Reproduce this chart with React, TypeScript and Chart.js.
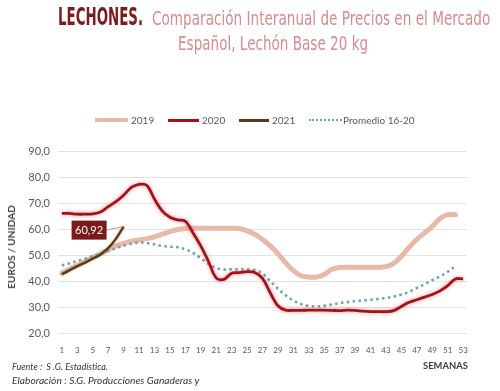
import React, { useEffect, useLayoutEffect, useRef } from 'react';
import { Chart, registerables } from 'chart.js';

Chart.register(...registerables);

const WEEK_LABELS = [
  '1', '2', '3', '4', '5', '6', '7', '8', '9', '10', '11', '12', '13', '14', '15', '16', '17', '18',
  '19', '20', '21', '22', '23', '24', '25', '26', '27', '28', '29', '30', '31', '32', '33', '34', '35',
  '36', '37', '38', '39', '40', '41', '42', '43', '44', '45', '46', '47', '48', '49', '50', '51', '52', '53',
];

const SERIES_2019 = [
  43, 44.5, 46, 47.5, 49, 50.5, 52, 53.5, 54.5, 55.3, 55.8, 56.3, 57, 58, 59, 59.8, 60.2, 60.3, 60.3,
  60.3, 60.3, 60.3, 60.3, 60.2, 59.3, 58, 56, 53.5, 50.5, 47, 44, 42, 41.5, 41.5, 42.5, 44.5, 45.2,
  45.3, 45.3, 45.3, 45.3, 45.3, 45.5, 46.8, 49.5, 53, 56, 58.5, 61, 64, 65.5, 65.5,
];

const SERIES_2020 = [
  66, 66, 65.7, 65.7, 65.8, 66.5, 68.6, 70.5, 73, 76, 77.2, 76.8, 71.5, 67, 64.5, 63.5, 63, 58.5, 53.5,
  47.5, 41.2, 40.6, 43, 43.2, 43.6, 43.3, 41, 35.5, 30.5, 28.8, 28.7, 28.7, 28.8, 28.8, 28.8, 28.7,
  28.6, 28.8, 28.7, 28.4, 28.2, 28.2, 28.2, 28.6, 30.2, 31.8, 32.8, 33.8, 34.8, 36.2, 38.2, 40.8, 40.8,
];

const SERIES_2021 = [42.6, 44.2, 45.7, 47.1, 48.6, 50.2, 52.6, 56.2, 60.92];

const SERIES_PROMEDIO = [
  46, 46.8, 47.7, 48.6, 49.5, 50.5, 51.5, 52.6, 53.6, 54.3, 54.8, 54.6, 54.1, 53.5, 53.2, 53, 52.2,
  50.8, 48.8, 46.6, 45, 44.4, 44.5, 44.5, 44.4, 44.2, 42.8, 40, 37, 34.5, 32.5, 31.1, 30.4, 30.2, 30.5,
  31, 31.5, 31.9, 32.2, 32.5, 32.8, 33.1, 33.5, 34, 34.8, 35.8, 37.3, 38.8, 40.3, 41.8, 43.5, 45.8,
];

const SERIES_NAMES = ['2019', '2020', '2021', 'Promedio 16-20'];
const LAST_LABEL = '60,92';

const C2019 = '#e9b9a7';
const C2020 = '#a3121b';
const C2021 = '#5b3a1e';
const CPROM = '#6aa3b5';

const glowPlugin = {
  id: 'glow',
  beforeDatasetDraw(chart: any, args: any) {
    const ctx = chart.ctx;
    ctx.save();
    if (args.index === 1) {
      ctx.shadowColor = 'rgba(230,60,60,0.55)';
      ctx.shadowBlur = 4;
    } else if (args.index === 2) {
      ctx.shadowColor = 'rgba(200,150,60,0.5)';
      ctx.shadowBlur = 3;
    }
  },
  afterDatasetDraw(chart: any) {
    chart.ctx.restore();
  },
};

const lastLabelPlugin = {
  id: 'lastLabel',
  afterDatasetsDraw(chart: any) {
    const meta = chart.getDatasetMeta(2);
    const pt = meta.data[meta.data.length - 1];
    if (!pt) return;
    const ctx = chart.ctx;
    const bw = 35;
    const bh = 19;
    const bx = pt.x - 17 - bw;
    const by = pt.y - 6;
    ctx.save();
    ctx.strokeStyle = '#a6a6a6';
    ctx.lineWidth = 1;
    ctx.beginPath();
    ctx.moveTo(bx + bw, by + bh / 2);
    ctx.lineTo(pt.x - 1, pt.y);
    ctx.stroke();
    ctx.fillStyle = '#7b1a1a';
    ctx.fillRect(bx, by, bw, bh);
    ctx.fillStyle = '#ffffff';
    ctx.font = '11px Lato, sans-serif';
    ctx.textAlign = 'center';
    ctx.textBaseline = 'middle';
    ctx.fillText(LAST_LABEL, bx + bw / 2, by + bh / 2 + 0.5);
    ctx.restore();
  },
};

function FitText(props: { text: string; left: number; top: number; width: number; style: any }) {
  const ref = useRef<HTMLDivElement>(null);
  useLayoutEffect(() => {
    const el = ref.current;
    if (!el) return;
    const w = el.offsetWidth;
    if (w > 0) el.style.transform = `scaleX(${props.width / w})`;
  });
  return (
    <div
      ref={ref}
      style={{
        position: 'absolute',
        left: props.left,
        top: props.top,
        whiteSpace: 'pre',
        transformOrigin: 'left top',
        ...props.style,
      }}
    >
      {props.text}
    </div>
  );
}

function RotatedTitle(props: { text: string; cx: number; cy: number; length: number; style: any }) {
  const ref = useRef<HTMLDivElement>(null);
  useLayoutEffect(() => {
    const el = ref.current;
    if (!el) return;
    const w = el.offsetWidth;
    if (w > 0) el.style.transform = `translate(-50%,-50%) rotate(-90deg) scaleX(${props.length / w})`;
  });
  return (
    <div
      ref={ref}
      style={{ position: 'absolute', left: props.cx, top: props.cy, whiteSpace: 'pre', ...props.style }}
    >
      {props.text}
    </div>
  );
}

function LegendItem(props: { x1: number; x2: number; tx: number; cy: number; label: string; line: any }) {
  return (
    <>
      <div style={{ position: 'absolute', left: props.x1, width: props.x2 - props.x1, ...props.line }} />
      <div
        style={{
          position: 'absolute',
          left: props.tx,
          top: props.cy - 7,
          height: 14,
          lineHeight: '14px',
          fontFamily: 'Lato, sans-serif',
          fontSize: 10,
          color: '#595959',
          whiteSpace: 'pre',
        }}
      >
        {props.label}
      </div>
    </>
  );
}

export default function App() {
  const canvasRef = useRef<HTMLCanvasElement>(null);

  useEffect(() => {
    const canvas = canvasRef.current;
    if (!canvas) return;
    const chart = new Chart(canvas, {
      type: 'line',
      data: {
        labels: WEEK_LABELS,
        datasets: [
          {
            label: SERIES_NAMES[0],
            data: SERIES_2019,
            borderColor: C2019,
            borderWidth: 5,
            pointRadius: 0,
            tension: 0.35,
            order: 3,
            borderCapStyle: 'round',
            borderJoinStyle: 'round',
          },
          {
            label: SERIES_NAMES[1],
            data: SERIES_2020,
            borderColor: C2020,
            borderWidth: 2.8,
            pointRadius: 0,
            tension: 0.35,
            order: 1,
            borderJoinStyle: 'round',
          },
          {
            label: SERIES_NAMES[2],
            data: SERIES_2021,
            borderColor: C2021,
            borderWidth: 2.5,
            pointRadius: 0,
            tension: 0.35,
            order: 0,
            borderJoinStyle: 'round',
          },
          {
            label: SERIES_NAMES[3],
            data: SERIES_PROMEDIO,
            borderColor: CPROM,
            borderWidth: 2.6,
            borderDash: [2.5, 3.4],
            pointRadius: 0,
            tension: 0.35,
            order: 2,
          },
        ] as any,
      },
      options: {
        responsive: false,
        animation: false,
        layout: { padding: { top: 151, right: 33, left: 0, bottom: 0 } },
        plugins: { legend: { display: false }, tooltip: { enabled: false }, title: { display: false } },
        scales: {
          x: {
            type: 'category',
            offset: true,
            grid: { display: false },
            border: { display: false },
            ticks: {
              autoSkip: false,
              maxRotation: 0,
              minRotation: 0,
              padding: 5,
              color: '#595959',
              font: { family: 'Lato, sans-serif', size: 8 },
              callback: (_v: any, i: number) => (i % 2 === 0 ? WEEK_LABELS[i] : ''),
            },
            afterFit: (s: any) => {
              s.height = 58;
            },
          },
          y: {
            min: 20,
            max: 90,
            grid: { color: '#e3e3e3', drawTicks: false, lineWidth: 1 },
            border: { display: false },
            ticks: {
              stepSize: 10,
              padding: 8,
              color: '#595959',
              font: { family: 'Lato, sans-serif', size: 11 },
              callback: (v: any) => Number(v).toFixed(1).replace('.', ','),
            },
            afterFit: (s: any) => {
              s.width = 58;
            },
          },
        },
      } as any,
      plugins: [glowPlugin, lastLabelPlugin],
    });
    return () => chart.destroy();
  }, []);

  return (
    <div
      style={{
        position: 'absolute',
        left: 0,
        top: 0,
        width: 500,
        height: 391,
        background: '#ffffff',
        overflow: 'hidden',
      }}
    >
      <canvas ref={canvasRef} width={500} height={391} style={{ position: 'absolute', left: 0, top: 0, display: 'block' }} />

      <FitText
        text="LECHONES."
        left={58}
        top={4}
        width={85}
        style={{
          fontFamily: '"Liberation Sans Narrow", "DejaVu Sans Condensed", sans-serif',
          fontWeight: 'bold',
          fontSize: 25,
          lineHeight: '25px',
          color: '#7c1c1c',
        }}
      />
      <FitText
        text="Comparación Interanual de Precios en el Mercado"
        left={152}
        top={8}
        width={338}
        style={{
          fontFamily: '"Liberation Sans Narrow", "DejaVu Sans Condensed", sans-serif',
          fontSize: 20,
          lineHeight: '20px',
          color: '#d98a8e',
        }}
      />
      <FitText
        text="Español, Lechón Base 20 kg"
        left={178}
        top={32.5}
        width={190}
        style={{
          fontFamily: '"Liberation Sans Narrow", "DejaVu Sans Condensed", sans-serif',
          fontSize: 20,
          lineHeight: '20px',
          color: '#d98a8e',
        }}
      />

      <LegendItem
        x1={95}
        x2={128}
        tx={131}
        cy={120}
        label={SERIES_NAMES[0]}
        line={{ top: 118, height: 4, background: C2019 }}
      />
      <LegendItem
        x1={168}
        x2={199}
        tx={202}
        cy={120}
        label={SERIES_NAMES[1]}
        line={{ top: 118.5, height: 3, background: C2020 }}
      />
      <LegendItem
        x1={239}
        x2={269}
        tx={272}
        cy={120}
        label={SERIES_NAMES[2]}
        line={{ top: 118.5, height: 3, background: C2021 }}
      />
      <LegendItem
        x1={309}
        x2={342}
        tx={343}
        cy={120}
        label={SERIES_NAMES[3]}
        line={{ top: 118.5, height: 0, borderTop: `2.5px dotted ${CPROM}` }}
      />

      <RotatedTitle
        text="EUROS / UNIDAD"
        cx={11}
        cy={247}
        length={84}
        style={{ fontFamily: 'Lato, sans-serif', fontWeight: 'bold', fontSize: 10, color: '#404040' }}
      />

      <FitText
        text="SEMANAS"
        left={423}
        top={360}
        width={45}
        style={{ fontFamily: 'Lato, sans-serif', fontWeight: 'bold', fontSize: 10, lineHeight: '10px', color: '#404040' }}
      />
      <FitText
        text="Fuente :  S .G. Estadística."
        left={12}
        top={361}
        width={96}
        style={{ fontFamily: 'Lato, sans-serif', fontStyle: 'italic', fontSize: 10, lineHeight: '10px', color: '#333333' }}
      />
      <FitText
        text="Elaboración : S.G. Producciones Ganaderas y"
        left={12}
        top={375}
        width={187}
        style={{ fontFamily: 'Lato, sans-serif', fontStyle: 'italic', fontSize: 10, lineHeight: '10px', color: '#333333' }}
      />
    </div>
  );
}
